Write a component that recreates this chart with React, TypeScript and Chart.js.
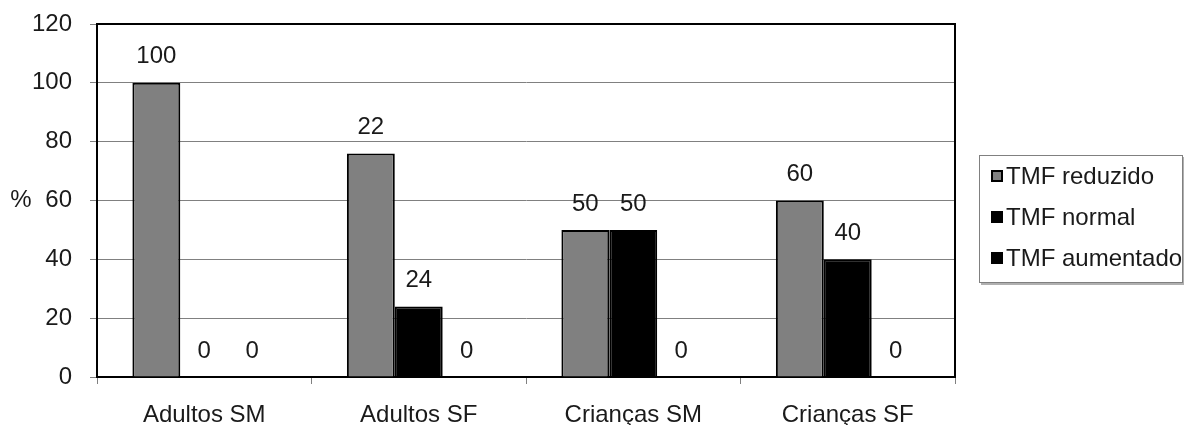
import React, { useEffect, useRef } from "react";
import { Chart, registerables } from "chart.js";

Chart.register(...registerables);

const categories = ["Adultos SM", "Adultos SF", "Crianças SM", "Crianças SF"];
const seriesNames = ["TMF reduzido", "TMF normal", "TMF aumentado"];
const reduzido = [100, 76, 50, 60];
const normal = [0, 24, 50, 40];
const aumentado = [0, 0, 0, 0];
const reduzidoLabels = ["100", "22", "50", "60"];
const normalLabels = ["0", "24", "50", "40"];
const aumentadoLabels = ["0", "0", "0", "0"];
const yAxisTitle = "%";
const yMin = 0;
const yMax = 120;
const yStep = 20;

const FONT = "Arial, 'Liberation Sans', sans-serif";
const FS = 24;
const TEXT = "#1a1a1a";

const dataLabelsPlugin = {
  id: "dataLabels",
  afterDatasetsDraw(chart: any) {
    const ctx = chart.ctx;
    ctx.save();
    ctx.font = `${FS}px ${FONT}`;
    ctx.fillStyle = TEXT;
    ctx.textAlign = "center";
    ctx.textBaseline = "middle";
    chart.data.datasets.forEach((ds: any, i: number) => {
      const meta = chart.getDatasetMeta(i);
      meta.data.forEach((bar: any, j: number) => {
        ctx.fillText(ds.valueLabels[j], bar.x, bar.y - 26);
      });
    });
    ctx.restore();
  },
};

const frameAndLegendPlugin = {
  id: "frameAndLegend",
  afterDraw(chart: any) {
    const ctx = chart.ctx;
    const a = chart.chartArea;
    ctx.save();
    // plot frame (top & right)
    ctx.strokeStyle = "#000";
    ctx.lineWidth = 2;
    ctx.beginPath();
    ctx.moveTo(a.left, a.top);
    ctx.lineTo(a.right, a.top);
    ctx.lineTo(a.right, a.bottom);
    ctx.stroke();

    // y axis title
    ctx.font = `${FS}px ${FONT}`;
    ctx.fillStyle = TEXT;
    ctx.textAlign = "center";
    ctx.textBaseline = "middle";
    ctx.fillText(yAxisTitle, 21, (a.top + a.bottom) / 2);

    // legend
    const lx = a.right + 24;
    const ly = 155;
    const lw = chart.width - 1 - lx;
    const lh = 128;
    ctx.fillStyle = "#b0b0b0";
    ctx.fillRect(lx + 2, ly + 2, lw, lh);
    ctx.fillStyle = "#fff";
    ctx.fillRect(lx, ly, lw, lh);
    ctx.strokeStyle = "#808080";
    ctx.lineWidth = 1;
    ctx.strokeRect(lx + 0.5, ly + 0.5, lw - 1, lh - 1);

    chart.data.datasets.forEach((ds: any, i: number) => {
      const cy = ly + 21 + i * 41;
      const sx = lx + 12;
      ctx.fillStyle = ds.backgroundColor;
      ctx.fillRect(sx, cy - 6, 12, 12);
      ctx.strokeStyle = "#000";
      ctx.lineWidth = 2;
      ctx.strokeRect(sx + 1, cy - 5, 10, 10);
      ctx.fillStyle = TEXT;
      ctx.textAlign = "left";
      ctx.textBaseline = "middle";
      ctx.font = `${FS}px ${FONT}`;
      ctx.fillText(ds.label, sx + 15, cy + 1);
    });
    ctx.restore();
  },
};

export default function App() {
  const ref = useRef<HTMLCanvasElement | null>(null);

  useEffect(() => {
    document.body.style.margin = "0";
    const canvas = ref.current;
    if (!canvas) return;
    const chart = new Chart(canvas, {
      type: "bar",
      data: {
        labels: categories,
        datasets: [
          {
            label: seriesNames[0],
            data: reduzido,
            valueLabels: reduzidoLabels,
            backgroundColor: "#808080",
            borderColor: "#000",
            borderWidth: 2,
          } as any,
          {
            label: seriesNames[1],
            data: normal,
            valueLabels: normalLabels,
            backgroundColor: "#000",
            borderColor: "#000",
            borderWidth: 2,
          } as any,
          {
            label: seriesNames[2],
            data: aumentado,
            valueLabels: aumentadoLabels,
            backgroundColor: "#000",
            borderColor: "#000",
            borderWidth: 0,
          } as any,
        ],
      },
      options: {
        animation: false,
        responsive: false,
        devicePixelRatio: 1,
        layout: { padding: { top: 24, right: 229, left: 0, bottom: 0 } },
        datasets: {
          bar: { categoryPercentage: 0.67, barPercentage: 1.0 },
        },
        plugins: {
          legend: { display: false },
          tooltip: { enabled: false },
        },
        scales: {
          x: {
            grid: {
              offset: true,
              drawOnChartArea: false,
              drawTicks: true,
              tickLength: 7,
              color: "#808080",
            },
            border: { color: "#000", width: 2 },
            ticks: {
              font: { family: FONT, size: FS },
              color: TEXT,
              padding: 17,
              maxRotation: 0,
            },
            afterFit: (s: any) => {
              s.height = 48;
              s.paddingLeft = 0;
              s.paddingRight = 0;
            },
          },
          y: {
            min: yMin,
            max: yMax,
            ticks: {
              stepSize: yStep,
              font: { family: FONT, size: FS },
              color: TEXT,
              padding: 18,
            },
            grid: {
              color: "#808080",
              lineWidth: 1,
              tickLength: 7,
            },
            border: { color: "#000", width: 2 },
            afterFit: (s: any) => {
              s.width = 97;
              s.paddingTop = 0;
              s.paddingBottom = 0;
            },
          },
        },
      },
      plugins: [dataLabelsPlugin, frameAndLegendPlugin],
    } as any);
    return () => chart.destroy();
  }, []);

  return (
    <div style={{ position: "absolute", left: 0, top: 0, width: 1184, height: 425 }}>
      <canvas ref={ref} width={1184} height={425} style={{ display: "block" }} />
    </div>
  );
}
